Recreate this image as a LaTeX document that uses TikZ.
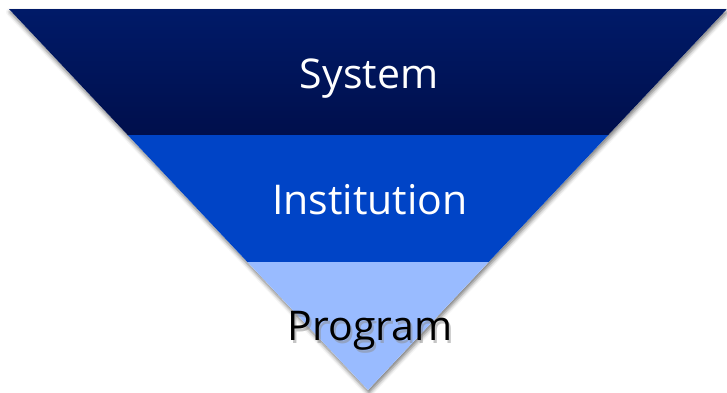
\documentclass[tikz,border=0pt]{standalone}
\usepackage{fontspec}
\setmainfont{Open Sans}
\usetikzlibrary{shadows.blur}

\definecolor{navytop}{HTML}{001A68}
\definecolor{navybot}{HTML}{000F4C}
\definecolor{midblue}{HTML}{0044C6}
\definecolor{lightblue}{HTML}{99BBFF}

\tikzset{
  level/.style={font=\fontsize{41}{41}\selectfont,anchor=base},
}

\begin{document}
\begin{tikzpicture}[x=1pt,y=-1pt]
\useasboundingbox (0,0) rectangle (727,392);

\fill[white,blur shadow={shadow xshift=1pt,shadow yshift=-3pt,shadow blur radius=4pt,shadow opacity=55}]
  (9,9) -- (727,9) -- (368,390) -- cycle;

\shade[top color=navytop,bottom color=navybot] (9,9) -- (727,9) -- (608.3,135) -- (127.7,135) -- cycle;
\fill[midblue] (127.7,135) -- (608.3,135) -- (488.6,262) -- (247.4,262) -- cycle;
\fill[lightblue] (247.4,262) -- (488.6,262) -- (368,390) -- cycle;

\node[level,text=white] (system) at (369,88) {System};
\node[level,text=white] (institution) at (370,214) {Institution};
\node[level,text=black!45,opacity=0.5] (programshadow) at (372,343) {Program};
\node[level,text=black] (program) at (370,340) {Program};
\end{tikzpicture}
\end{document}
